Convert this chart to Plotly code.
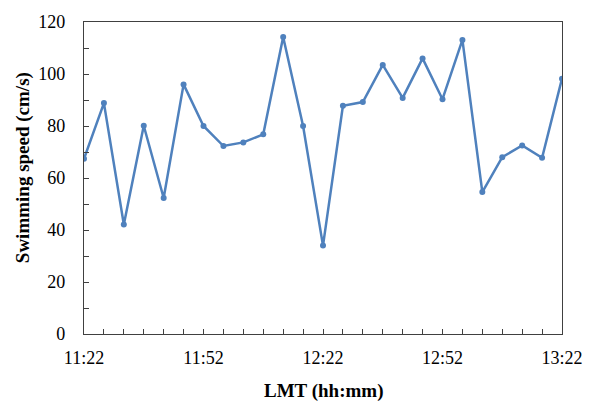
import plotly.graph_objects as go

times = ["11:22", "11:27", "11:32", "11:37", "11:42", "11:47", "11:52", "11:57",
         "12:02", "12:07", "12:12", "12:17", "12:22", "12:27", "12:32", "12:37",
         "12:42", "12:47", "12:52", "12:57", "13:02", "13:07", "13:12", "13:17", "13:22"]
speed = [67.4, 88.8, 42.1, 80.1, 52.3, 96.0, 80.0, 72.3, 73.7, 76.8, 114.2, 80.0,
         34.0, 87.8, 89.2, 103.5, 90.8, 106.0, 90.3, 113.1, 54.6, 68.0, 72.5, 67.8, 98.2]
tick_labels = ["11:22", "11:52", "12:22", "12:52", "13:22"]

def to_min(t):
    h, m = t.split(":")
    return int(h) * 60 + int(m)

x = [to_min(t) for t in times]
tick_vals = [to_min(t) for t in tick_labels]

FONT = "Liberation Serif"
AX = "#404040"

fig = go.Figure(go.Scatter(
    x=x, y=speed, mode="lines+markers",
    line=dict(color="#4F81BD", width=2.5),
    marker=dict(color="#4F81BD", size=6),
    showlegend=False,
))

fig.update_layout(
    width=596, height=405,
    margin=dict(l=84, r=34, t=16, b=71),
    paper_bgcolor="white", plot_bgcolor="white",
    font=dict(family=FONT, size=18, color="black"),
    xaxis=dict(
        range=[x[0], x[-1]], tickvals=tick_vals, ticktext=tick_labels,
        ticks="inside", ticklen=5, tickcolor=AX, tickwidth=1,
        minor=dict(dtick=5, tick0=x[0], ticks="inside", ticklen=5, tickcolor=AX, tickwidth=1),
        showgrid=False, zeroline=False,
        showline=True, linecolor=AX, linewidth=1.2, mirror=True,
        tickfont=dict(family=FONT, size=18, color="black"),
        ticklabelstandoff=7,
    ),
    yaxis=dict(
        range=[0, 120], tickvals=[0, 20, 40, 60, 80, 100, 120],
        ticks="inside", ticklen=5, tickcolor=AX, tickwidth=1,
        minor=dict(dtick=10, tick0=0, ticks="inside", ticklen=5, tickcolor=AX, tickwidth=1),
        showgrid=False, zeroline=False,
        showline=True, linecolor=AX, linewidth=1.2, mirror=True,
        tickfont=dict(family=FONT, size=18, color="black"),
        ticklabelstandoff=14,
    ),
    annotations=[
        dict(text="<b>LMT (hh:mm)</b>", xref="paper", yref="paper",
             x=0.5, y=-(392 - 334) / 318, xanchor="center", yanchor="middle",
             showarrow=False, font=dict(family=FONT, size=19, color="black")),
        dict(text="<b>Swimming speed (cm/s)</b>", xref="paper", yref="paper",
             x=-(84 - 23) / 478, y=(334 - 165) / 318, xanchor="center", yanchor="middle",
             textangle=-90, showarrow=False,
             font=dict(family=FONT, size=19, color="black")),
    ],
)

fig.write_html("out.html")
